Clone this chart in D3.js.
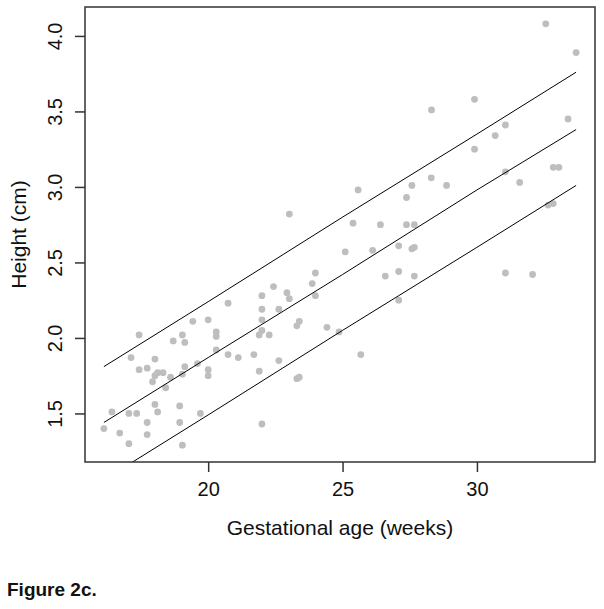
<!DOCTYPE html>
<html>
<head>
<meta charset="utf-8">
<script src="https://cdn.jsdelivr.net/npm/d3@7"></script>
<style>
  body { margin: 0; background: #fff; }
  text { font-family: "Liberation Sans", Arial, sans-serif; fill: #111; }
</style>
</head>
<body>
<script>
// Observed data: gestational age (weeks) and height (cm)
const gestAge = [
  20.74, 22.0, 17.43, 19.43, 20.0, 19.04, 18.70, 19.13, 20.30, 20.30,
  22.0, 22.0, 21.90, 22.27, 20.30, 20.74, 21.12, 21.70, 17.13, 18.02,
  17.43, 17.73, 19.13, 19.60, 20.0, 20.0, 18.02, 18.12, 18.32, 17.93,
  18.60, 19.04, 18.42, 21.90, 16.42, 17.05, 17.34, 18.02, 18.12, 18.94,
  19.71, 16.12, 16.71, 17.73, 17.73, 17.05, 18.94, 19.04, 22.0, 22.0,
  23.02, 25.58, 27.58, 27.38, 28.30, 25.39, 26.41, 27.38, 27.67, 25.10,
  26.12, 27.09, 27.58, 27.67, 23.99, 23.87, 22.43, 22.93, 23.02, 23.99,
  26.59, 27.09, 27.67, 27.09, 22.63, 23.30, 23.39, 24.42, 24.87, 25.68,
  22.63, 23.30, 23.39, 32.56, 33.69, 28.31, 29.91, 33.39, 31.06, 30.68,
  29.91, 28.87, 31.06, 31.59, 32.84, 33.05, 32.65, 32.84, 31.06, 32.07
];
const height = [
  2.23, 2.19, 2.02, 2.11, 2.12, 2.02, 1.98, 1.97, 2.04, 2.01,
  2.12, 2.05, 2.02, 2.02, 1.92, 1.89, 1.87, 1.89, 1.87, 1.86,
  1.79, 1.80, 1.81, 1.83, 1.79, 1.75, 1.75, 1.77, 1.77, 1.71,
  1.74, 1.76, 1.67, 1.78, 1.51, 1.50, 1.50, 1.56, 1.51, 1.55,
  1.50, 1.40, 1.37, 1.44, 1.36, 1.30, 1.44, 1.29, 1.43, 2.28,
  2.82, 2.98, 3.01, 2.93, 3.06, 2.76, 2.75, 2.75, 2.75, 2.57,
  2.58, 2.61, 2.59, 2.60, 2.43, 2.36, 2.34, 2.30, 2.26, 2.28,
  2.41, 2.44, 2.41, 2.25, 2.19, 2.08, 2.11, 2.07, 2.04, 1.89,
  1.85, 1.73, 1.74, 4.08, 3.89, 3.51, 3.58, 3.45, 3.41, 3.34,
  3.25, 3.01, 3.10, 3.03, 3.13, 3.13, 2.88, 2.89, 2.43, 2.42
];

// Reference curves
const curveAge = [16.12, 20, 25, 30, 33.69];
const upperCurve = [1.81, 2.24, 2.80, 3.35, 3.76];
const middleCurve = [1.44, 1.87, 2.42, 2.98, 3.38];
const lowerCurve = [1.06, 1.49, 2.05, 2.60, 3.01];

const xTicks = [20, 25, 30];
const yTicks = [1.5, 2.0, 2.5, 3.0, 3.5, 4.0];

const width = 604, height_px = 609;
const box = { left: 85, right: 595, top: 7, bottom: 462 };

// R-style 4% padding on the data range
function padded(arr) {
  const [lo, hi] = d3.extent(arr);
  const p = (hi - lo) * 0.04;
  return [lo - p, hi + p];
}

const x = d3.scaleLinear().domain(padded(gestAge)).range([box.left, box.right]);
const y = d3.scaleLinear().domain(padded(height)).range([box.bottom, box.top]);

const svg = d3.select("body").append("svg")
  .attr("width", width)
  .attr("height", height_px);

svg.append("clipPath").attr("id", "plotclip")
  .append("rect")
  .attr("x", box.left).attr("y", box.top)
  .attr("width", box.right - box.left)
  .attr("height", box.bottom - box.top);

const pts = gestAge.map((g, i) => ({ g, h: height[i] }));

svg.append("g")
  .attr("clip-path", "url(#plotclip)")
  .selectAll("circle")
  .data(pts)
  .enter()
  .append("circle")
  .attr("cx", d => x(d.g))
  .attr("cy", d => y(d.h))
  .attr("r", 3.4)
  .attr("fill", "#bebebe");

const line = d3.line().x(d => x(d[0])).y(d => y(d[1]));
[upperCurve, middleCurve, lowerCurve].forEach(c => {
  svg.append("path")
    .attr("clip-path", "url(#plotclip)")
    .attr("d", line(curveAge.map((a, i) => [a, c[i]])))
    .attr("fill", "none")
    .attr("stroke", "#000")
    .attr("stroke-width", 1);
});

// Box
svg.append("rect")
  .attr("x", box.left).attr("y", box.top)
  .attr("width", box.right - box.left)
  .attr("height", box.bottom - box.top)
  .attr("fill", "none")
  .attr("stroke", "#333")
  .attr("stroke-width", 1.5);

// X axis
const xAxis = d3.axisBottom(x).tickValues(xTicks).tickSize(10).tickPadding(10)
  .tickFormat(d3.format("d"));
const gx = svg.append("g")
  .attr("transform", `translate(0,${box.bottom})`)
  .call(xAxis);
gx.select(".domain").remove();
gx.selectAll("line").attr("stroke", "#333").attr("stroke-width", 1.5);
gx.selectAll("text")
  .attr("font-size", 20)
  .attr("font-family", "Liberation Sans, Arial, sans-serif")
  .attr("fill", "#111");

// Y axis
const yAxis = d3.axisLeft(y).tickValues(yTicks).tickSize(10)
  .tickFormat(d3.format(".1f"));
const gy = svg.append("g")
  .attr("transform", `translate(${box.left},0)`)
  .call(yAxis);
gy.select(".domain").remove();
gy.selectAll("line").attr("stroke", "#333").attr("stroke-width", 1.5);
gy.selectAll("text")
  .attr("x", null).attr("dy", null)
  .attr("transform", "translate(-23,0) rotate(-90)")
  .attr("text-anchor", "middle")
  .attr("font-size", 20)
  .attr("font-family", "Liberation Sans, Arial, sans-serif")
  .attr("fill", "#111");

// Axis titles
svg.append("text")
  .attr("x", (box.left + box.right) / 2)
  .attr("y", 535)
  .attr("text-anchor", "middle")
  .attr("font-size", 21)
  .text("Gestational age (weeks)");

svg.append("text")
  .attr("transform", `translate(26,${(box.top + box.bottom) / 2}) rotate(-90)`)
  .attr("text-anchor", "middle")
  .attr("font-size", 21)
  .text("Height (cm)");

svg.append("text")
  .attr("x", 7)
  .attr("y", 596)
  .attr("font-size", 19)
  .attr("font-weight", "bold")
  .text("Figure 2c.");
</script>
</body>
</html>
